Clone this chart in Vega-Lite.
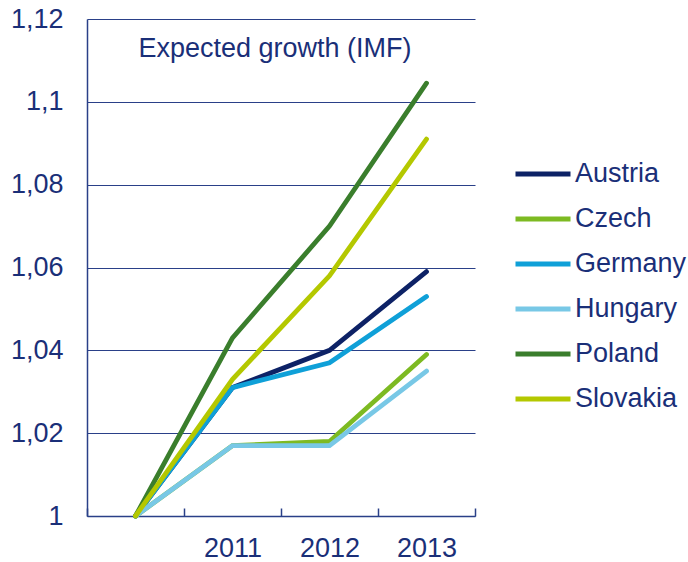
{
  "$schema": "https://vega.github.io/schema/vega-lite/v6.json",
  "width": 388,
  "height": 497,
  "autosize": "none",
  "padding": {"left": 87, "top": 19, "right": 213, "bottom": 46},
  "background": "white",
  "title": {
    "text": "Expected growth (IMF)",
    "anchor": "middle",
    "offset": -58,
    "dx": -6,
    "font": "Liberation Sans",
    "fontSize": 27,
    "fontWeight": "normal",
    "color": "#1a2f78"
  },
  "config": {
    "view": {"stroke": null},
    "font": "Liberation Sans"
  },
  "data": {
    "values": [
      {"year": "2010", "country": "Austria", "value": 1},
      {"year": "2011", "country": "Austria", "value": 1.031},
      {"year": "2012", "country": "Austria", "value": 1.040},
      {"year": "2013", "country": "Austria", "value": 1.059},
      {"year": "2010", "country": "Czech", "value": 1},
      {"year": "2011", "country": "Czech", "value": 1.017},
      {"year": "2012", "country": "Czech", "value": 1.018},
      {"year": "2013", "country": "Czech", "value": 1.039},
      {"year": "2010", "country": "Germany", "value": 1},
      {"year": "2011", "country": "Germany", "value": 1.031},
      {"year": "2012", "country": "Germany", "value": 1.037},
      {"year": "2013", "country": "Germany", "value": 1.053},
      {"year": "2010", "country": "Hungary", "value": 1},
      {"year": "2011", "country": "Hungary", "value": 1.017},
      {"year": "2012", "country": "Hungary", "value": 1.017},
      {"year": "2013", "country": "Hungary", "value": 1.035},
      {"year": "2010", "country": "Poland", "value": 1},
      {"year": "2011", "country": "Poland", "value": 1.043},
      {"year": "2012", "country": "Poland", "value": 1.070},
      {"year": "2013", "country": "Poland", "value": 1.1045},
      {"year": "2010", "country": "Slovakia", "value": 1},
      {"year": "2011", "country": "Slovakia", "value": 1.033},
      {"year": "2012", "country": "Slovakia", "value": 1.058},
      {"year": "2013", "country": "Slovakia", "value": 1.091}
    ]
  },
  "mark": {"type": "line", "strokeWidth": 4.8, "strokeCap": "round", "strokeJoin": "miter"},
  "encoding": {
    "x": {
      "field": "year",
      "type": "ordinal",
      "scale": {"type": "band", "paddingInner": 0, "paddingOuter": 0},
      "axis": {
        "title": null,
        "labelAngle": 0,
        "labelExpr": "datum.value == '2010' ? '' : datum.value",
        "labelFontSize": 27,
        "labelColor": "#1a2f78",
        "labelPadding": 27,
        "labelFont": "Liberation Sans",
        "tickBand": "extent",
        "tickSize": -8,
        "tickColor": "#2a4088",
        "tickWidth": 1.5,
        "domainColor": "#2a4088",
        "domainWidth": 1.5,
        "grid": false
      }
    },
    "y": {
      "field": "value",
      "type": "quantitative",
      "scale": {"domain": [1, 1.12], "nice": false, "zero": false},
      "axis": {
        "title": null,
        "values": [1, 1.02, 1.04, 1.06, 1.08, 1.1, 1.12],
        "labelExpr": "replace(format(datum.value, '.2~f'), '.', ',')",
        "labelFontSize": 27,
        "labelColor": "#1a2f78",
        "labelPadding": 24,
        "labelFont": "Liberation Sans",
        "ticks": false,
        "domainColor": "#2a4088",
        "domainWidth": 1.5,
        "grid": true,
        "gridColor": "#2a4088",
        "gridWidth": 1.2,
        "gridOpacity": 1
      }
    },
    "color": {
      "field": "country",
      "type": "nominal",
      "scale": {
        "domain": ["Austria", "Czech", "Germany", "Hungary", "Poland", "Slovakia"],
        "range": ["#0d2266", "#7dba22", "#0fa0d8", "#78c8e6", "#3a7e2c", "#b4c800"]
      },
      "legend": {
        "title": null,
        "orient": "none",
        "legendX": 426,
        "legendY": 125,
        "symbolType": "stroke",
        "symbolSize": 3025,
        "symbolStrokeWidth": 4.8,
        "labelFontSize": 27,
        "labelColor": "#1a2f78",
        "labelFont": "Liberation Sans",
        "labelOffset": 2,
        "rowPadding": 2,
        "labelLimit": 300
      }
    }
  }
}
